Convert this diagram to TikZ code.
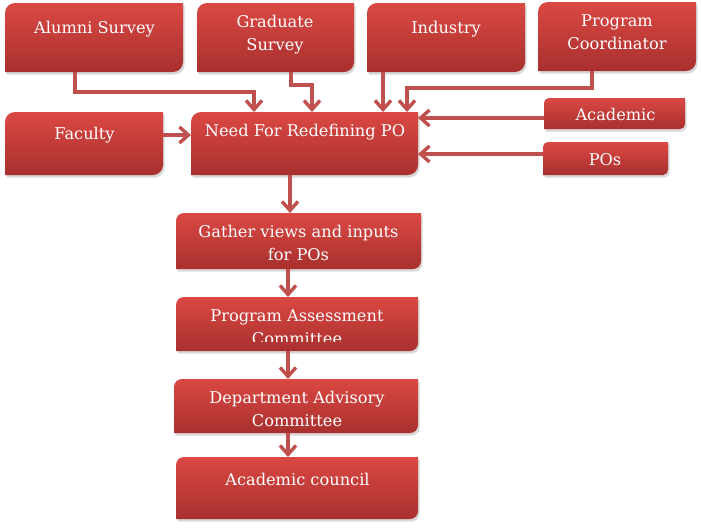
\documentclass[tikz,border=0pt]{standalone}
\usepackage{fontspec}
\setmainfont{DejaVu Serif}
\usetikzlibrary{arrows.meta,shadows,calc}

\definecolor{boxtop}{RGB}{219,72,67}
\definecolor{boxbot}{RGB}{168,48,46}
\definecolor{arr}{RGB}{192,80,77}

\tikzset{
  holder/.style={inner sep=0pt, outer sep=0pt},
  shapefill/.style={top color=boxtop, bottom color=boxbot,
    drop shadow={shadow xshift=1.5pt, shadow yshift=-2.5pt, opacity=0.3}},
  lbl/.style={text=white, font=\fontsize{16.2}{23}\selectfont, align=center, inner sep=0pt, anchor=base},
  conn/.style={draw=arr, line width=3.4pt, -{Straight Barb[length=9pt,width=16pt]}},
}

\newcommand\diagshape[2]{%
  \path[shapefill] (#1.south west) -- ([yshift=-#2]#1.north west)
    arc[start angle=180,end angle=90,radius=#2] -- (#1.north east)
    -- ([yshift=#2]#1.south east) arc[start angle=0,end angle=-90,radius=#2] -- cycle;}
\newcommand\mkbox[6]{%
  \node[holder, minimum width=#4pt, minimum height=#5pt] (#1) at (#2,#3) {};
  \diagshape{#1}{#6pt}}

\begin{document}
\begin{tikzpicture}[x=1pt,y=-1pt]
\fill[white] (0,0) rectangle (701,528);
\useasboundingbox (0,0) rectangle (701,528);

% boxes
\mkbox{alumni}{94}{37.5}{178}{69}{10}
\mkbox{grad}{275.5}{37.5}{157}{69}{10}
\mkbox{industry}{446}{37.5}{158}{69}{10}
\mkbox{coord}{617}{36.5}{158}{69}{10}
\mkbox{faculty}{84}{143.5}{158}{63}{10}
\mkbox{need}{304.5}{143.5}{227}{63}{10}
\mkbox{academic}{614.5}{113.5}{141}{31}{5}
\mkbox{pos}{605.5}{158.5}{125}{33}{5}
\mkbox{gather}{298.5}{241}{245}{56}{8}
\mkbox{pac}{297}{324}{242}{54}{8}
\mkbox{dac}{296}{406}{244}{54}{8}
\mkbox{council}{297}{488}{242}{62}{8}

% connectors
\draw[conn] ([xshift=-19pt]alumni.south) |- ([xshift=-50.5pt,yshift=20pt]need.north) -- ([xshift=-50.5pt]need.north);
\draw[conn] ([xshift=15.5pt]grad.south) |- ([xshift=7.5pt,yshift=27pt]need.north) -- ([xshift=7.5pt]need.north);
\draw[conn] ([xshift=-63pt]industry.south) -- ([xshift=78.5pt]need.north);
\draw[conn] ([xshift=-25pt]coord.south) |- ([xshift=102.5pt,yshift=24pt]need.north) -- ([xshift=102.5pt]need.north);
\draw[conn] ([yshift=-4.5pt]academic.west) -- ([yshift=-4.5pt]academic.west -| need.east);
\draw[conn] ([yshift=4.5pt]pos.west) -- ([yshift=4.5pt]pos.west -| need.east);
\draw[conn] ([yshift=8.5pt]faculty.east) -- ([yshift=8.5pt]faculty.east -| need.west);
\draw[conn] ([xshift=-14.5pt]need.south) -- ([xshift=-14.5pt]need.south |- gather.north);
\draw[conn] ([xshift=-10.5pt]gather.south) -- ([xshift=-10.5pt]gather.south |- pac.north);
\draw[conn] ([xshift=-9pt]pac.south) -- ([xshift=-9pt]pac.south |- dac.north);
\draw[conn] ([xshift=-8pt]dac.south) -- ([xshift=-8pt]dac.south |- council.north);

% labels (anchor=base is the baseline of the last line)
\node[lbl] (alumni-t) at (94.5,33) {Alumni Survey};
\node[lbl] (grad-t) at (275,50) {Graduate\\Survey};
\node[lbl] (industry-t) at (446,33) {Industry};
\node[lbl] (coord-t) at (617,49) {Program\\Coordinator};
\node[lbl] (faculty-t) at (84.5,139) {Faculty};
\node[lbl] (need-t) at (305,136) {Need For Redefining PO};
\node[lbl] (academic-t) at (615.5,120) {Academic};
\node[lbl] (pos-t) at (605,165) {POs};
\node[lbl] (gather-t) at (298.5,260) {Gather views and inputs\\for POs};
\begin{scope}
  \clip (pac.north west) rectangle ([yshift=10pt]pac.south east);
  \node[lbl] (pac-t) at (297,344) {Program Assessment\\Committee};
\end{scope}
\node[lbl] (dac-t) at (297,426) {Department Advisory\\Committee};
\node[lbl] (council-t) at (297.5,485) {Academic council};
\end{tikzpicture}
\end{document}
